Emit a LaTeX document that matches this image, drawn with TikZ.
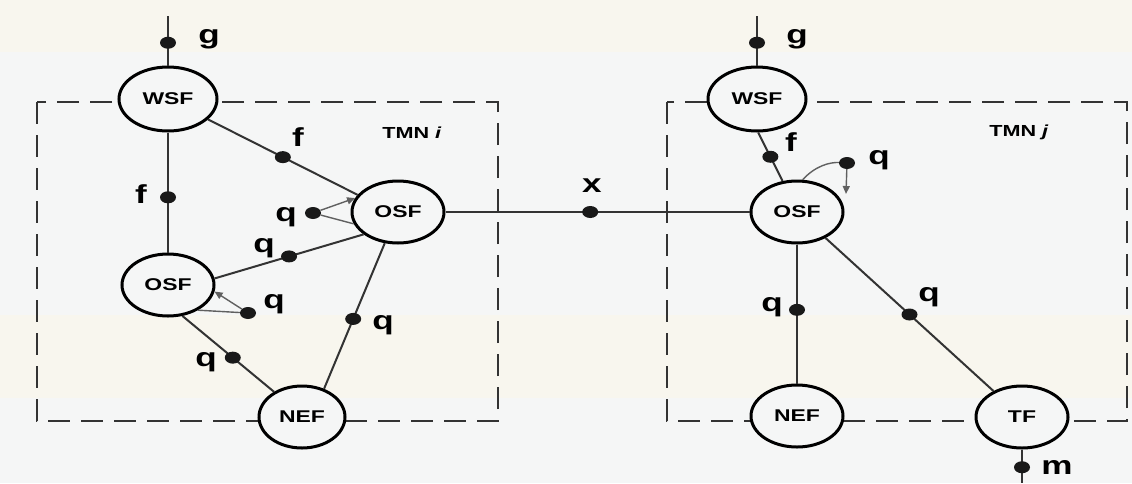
\documentclass[tikz,border=0pt]{standalone}
\usepackage{fontspec}
\setmainfont{Liberation Sans}[FakeStretch=1.35]
\usetikzlibrary{arrows.meta,shapes.geometric}
\definecolor{bgc}{HTML}{F5F6F6}
\definecolor{band}{HTML}{F8F6EE}
\definecolor{edgec}{HTML}{333333}
\definecolor{loopc}{HTML}{606060}
\begin{document}
\begin{tikzpicture}[x=1pt,y=-1pt,
  fn/.style={ellipse, draw=black, line width=3pt, fill=bgc, minimum width=92pt, minimum height=62pt, inner sep=0pt, font=\fontsize{17}{17}\selectfont\bfseries},
  wsf/.style={fn, minimum width=98pt, minimum height=64pt},
  dot/.style={ellipse, fill=black!90, minimum width=16pt, minimum height=12pt, inner sep=0pt},
  lbl/.style={inner sep=0pt, font=\fontsize{26}{26}\selectfont\bfseries},
  tmn/.style={inner sep=0pt, font=\fontsize{16}{16}\selectfont\bfseries},
  ln/.style={draw=edgec, line width=2pt},
  lp/.style={draw=loopc, line width=1.4pt},
  tip/.style={-{Triangle[length=8pt,width=7pt]}},
  dashbox/.style={draw=black!80, line width=2.6pt, dash pattern=on 22pt off 11pt}]
% background
\fill[bgc] (0,0) rectangle (1132,483);
\fill[band] (0,0) rectangle (1132,52);
\fill[band] (0,315) rectangle (1132,398);
\useasboundingbox (0,0) rectangle (1132,483);
% boxes
\draw[dashbox] (37,102) rectangle (498,421);
\draw[dashbox] (667,102) rectangle (1127,421);
% nodes
\node[wsf] (wsfL) at (168,99) {WSF};
\node[fn] (osfL) at (168,285) {OSF};
\node[fn] (osfM) at (398,212) {OSF};
\node[fn, minimum width=86pt] (nefL) at (302,417) {NEF};
\node[wsf] (wsfR) at (757,99) {WSF};
\node[fn] (osfR) at (797,212) {OSF};
\node[fn] (nefR) at (797,416) {NEF};
\node[fn] (tf) at (1022,417) {TF};
\coordinate (topL) at (168,16);
\coordinate (topR) at (757,16);
\coordinate (botTF) at (1022,483);
\coordinate (tipR) at (846,194);
% left edges
\draw[ln] (topL) -- node[dot,pos=0.54] (dgL) {} (wsfL.north);
\draw[ln] (wsfL.south) -- node[dot,pos=0.54] (df1) {} (osfL.north);
\draw[ln] (wsfL.-27) -- node[dot,pos=0.5] (df2) {} (osfM.157);
\draw[ln] (osfM.-147) -- node[dot,pos=0.5] (dq2) {} (osfL.8);
\draw[ln] (osfL.-65) -- node[dot,pos=0.55] (dq4) {} (nefL.138);
\draw[ln] (osfM.-113) -- node[dot,pos=0.52] (dq5) {} (nefL.52);
\draw[ln] (osfM.east) -- node[dot,pos=0.476] (dx) {} (osfR.west);
% left self loops
\node[dot] (dq1) at (313,213) {};
\draw[lp,tip] (dq1) -- (osfM.162);
\draw[lp] (osfM.195) -- (dq1);
\node[dot] (dq3) at (248,313) {};
\draw[lp,tip] (dq3) -- (osfL.-8);
\draw[lp] (osfL.-40) -- (dq3);
% right edges
\draw[ln] (topR) -- node[dot,pos=0.54] (dgR) {} (wsfR.north);
\draw[ln] (wsfR.-88) -- node[dot,pos=0.5] (df3) {} (osfR.115);
\draw[ln] (osfR.south) -- node[dot,pos=0.47] (dq7) {} (nefR.north);
\draw[ln] (osfR) -- node[dot,pos=0.5] (dq8) {} (tf);
\draw[ln] (tf.south) -- node[dot,pos=0.53] (dm) {} (botTF);
\node[dot] (dq6) at (847,163) {};
\draw[lp] (osfR.80) .. controls (815,166) and (830,162) .. (dq6);
\draw[lp,tip] (dq6) -- (tipR);
% labels
\node[lbl] (lg1) at (209,39) {g};
\node[lbl] (lf1) at (141,194) {f};
\node[lbl] (lf2) at (298,137) {f};
\node[lbl] (lq1) at (286,217) {q};
\node[lbl] (lq2) at (264,248) {q};
\node[lbl] (lq3) at (274,304) {q};
\node[lbl] (lq4) at (206,362) {q};
\node[lbl] (lq5) at (383,325) {q};
\node[tmn] (tmni) at (412,133) {TMN \textit{i}};
\node[lbl] (lx) at (592,186) {x};
\node[lbl] (lg2) at (797,39) {g};
\node[lbl] (lf3) at (791,142) {f};
\node[lbl] (lq6) at (879,160) {q};
\node[lbl] (lq7) at (772,307) {q};
\node[lbl] (lq8) at (929,297) {q};
\node[tmn] (tmnj) at (1019,132) {TMN \textit{j}};
\node[lbl] (lm) at (1057,467) {m};
\end{tikzpicture}
\end{document}
